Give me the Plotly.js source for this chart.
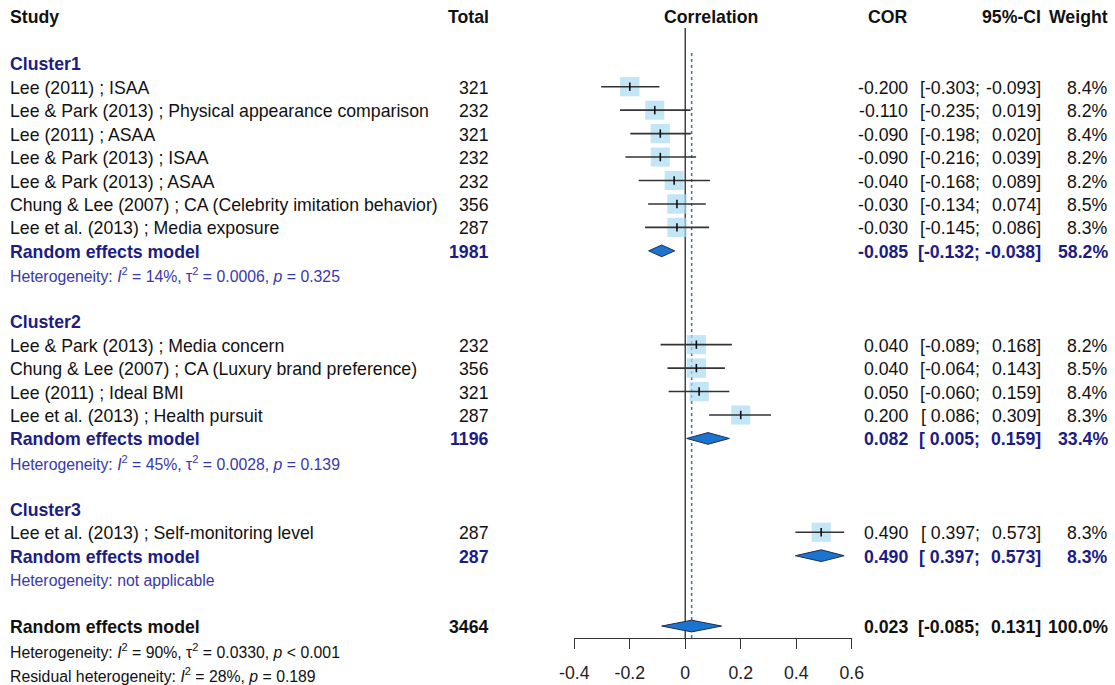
<!DOCTYPE html>
<html>
<head>
<meta charset="utf-8">
<script src="https://cdn.plot.ly/plotly-3.0.1.min.js"></script>
<style>html,body{margin:0;padding:0;background:#fff}#chart{width:1115px;height:685px}</style>
</head>
<body>
<div id="chart"></div>
<script>
// ---------- data ----------
const clusterNames = ["Cluster1", "Cluster2", "Cluster3"];
const studyCluster = [0,0,0,0,0,0,0, 1,1,1,1, 2];
const studyLabels = [
  "Lee (2011) ; ISAA",
  "Lee & Park (2013) ; Physical appearance comparison",
  "Lee (2011) ; ASAA",
  "Lee & Park (2013) ; ISAA",
  "Lee & Park (2013) ; ASAA",
  "Chung & Lee (2007) ; CA (Celebrity imitation behavior)",
  "Lee et al. (2013) ; Media exposure",
  "Lee & Park (2013) ; Media concern",
  "Chung & Lee (2007) ; CA (Luxury brand preference)",
  "Lee (2011) ; Ideal BMI",
  "Lee et al. (2013) ; Health pursuit",
  "Lee et al. (2013) ; Self-monitoring level"
];
const studyTotals = [321, 232, 321, 232, 232, 356, 287, 232, 356, 321, 287, 287];
const studyCor    = [-0.200, -0.110, -0.090, -0.090, -0.040, -0.030, -0.030, 0.040, 0.040, 0.050, 0.200, 0.490];
const studyLower  = [-0.303, -0.235, -0.198, -0.216, -0.168, -0.134, -0.145, -0.089, -0.064, -0.060, 0.086, 0.397];
const studyUpper  = [-0.093, 0.019, 0.020, 0.039, 0.089, 0.074, 0.086, 0.168, 0.143, 0.159, 0.309, 0.573];
const studyWeight = [8.4, 8.2, 8.4, 8.2, 8.2, 8.5, 8.3, 8.2, 8.5, 8.4, 8.3, 8.3];

const clusterTotals = [1981, 1196, 287];
const clusterCor    = [-0.085, 0.082, 0.490];
const clusterLower  = [-0.132, 0.005, 0.397];
const clusterUpper  = [-0.038, 0.159, 0.573];
const clusterWeight = [58.2, 33.4, 8.3];
const clusterHet = [
  "Heterogeneity: <i>I</i><sup>2</sup> = 14%, τ<sup>2</sup> = 0.0006, <i>p</i> = 0.325",
  "Heterogeneity: <i>I</i><sup>2</sup> = 45%, τ<sup>2</sup> = 0.0028, <i>p</i> = 0.139",
  "Heterogeneity: not applicable"
];

const overallTotal = 3464;
const overallCor = 0.023, overallLower = -0.085, overallUpper = 0.131, overallWeight = 100.0;
const overallHet = "Heterogeneity: <i>I</i><sup>2</sup> = 90%, τ<sup>2</sup> = 0.0330, <i>p</i> &lt; 0.001";
const residualHet = "Residual heterogeneity: <i>I</i><sup>2</sup> = 28%, <i>p</i> = 0.189";

const headers = ["Study", "Total", "Correlation", "COR", "95%-CI", "Weight"];
const tickVals = [-0.4, -0.2, 0, 0.2, 0.4, 0.6];
const tickLabels = ["-0.4", "-0.2", "0", "0.2", "0.4", "0.6"];

// ---------- layout helpers ----------
const W = 1115, H = 685;
const ROW = 23.45, ROW0 = 16.35;               // pixel row geometry
const px = v => v / W;                          // paper x from pixel
const py = p => 1 - p / H;                      // paper y from pixel (from top)
const yTop = -ROW0 / ROW, yBot = (H - ROW0) / ROW;

const DARK = "#1c1c84", HET = "#3838a8", BLACK = "#111";
const FS = 17.7, HFS = 15.8;
const FONT = "Liberation Sans, Arial, sans-serif";
const COL = {study: 8, total: 491, corr: 711, cor: 910, semi: 982, ci: 1043, wt: 1110};

const f3 = v => v.toFixed(3);
const fmtW = v => v.toFixed(1) + "%";

const ann = [];
function txt(x, r, text, anchor, opts) {
  opts = opts || {};
  ann.push({xref: "paper", yref: "y", x: px(x), y: r, text: text, showarrow: false,
    xanchor: anchor, yanchor: "middle", yshift: opts.yshift === undefined ? -1 : opts.yshift,
    font: {family: FONT, size: opts.size || FS, color: opts.color || BLACK}});
}
function b(s) { return "<b>" + s + "</b>"; }
function rowNumbers(r, total, cor, lo, hi, w, bold, color) {
  const w2 = bold ? b : (s => s);
  const o = {color: color};
  txt(COL.total, r, w2(String(total)), "right", o);
  txt(COL.cor, r, w2(f3(cor)), "right", o);
  txt(COL.semi, r, w2("[" + (lo < 0 ? "" : " ") + f3(lo) + ";"), "right", o);
  txt(COL.ci, r, w2(f3(hi) + "]"), "right", o);
  txt(COL.wt, r, w2(fmtW(w)), "right", o);
}

// headers
txt(COL.study, 0, b(headers[0]), "left");
txt(COL.total, 0, b(headers[1]), "right");
txt(COL.corr, 0, b(headers[2]), "center");
txt(COL.cor, 0, b(headers[3]), "right");
txt(COL.ci, 0, b(headers[4]), "right");
txt(COL.wt, 0, b(headers[5]), "right");

// rows
const studyRow = [], sumRow = [];
let r = 2;
clusterNames.forEach((cn, c) => {
  txt(COL.study, r, b(cn), "left", {color: DARK});
  r++;
  studyLabels.forEach((lab, i) => {
    if (studyCluster[i] !== c) return;
    studyRow[i] = r;
    txt(COL.study, r, lab, "left");
    rowNumbers(r, studyTotals[i], studyCor[i], studyLower[i], studyUpper[i], studyWeight[i], false, BLACK);
    r++;
  });
  sumRow[c] = r;
  txt(COL.study, r, b("Random effects model"), "left", {color: DARK});
  rowNumbers(r, clusterTotals[c], clusterCor[c], clusterLower[c], clusterUpper[c], clusterWeight[c], true, DARK);
  r++;
  txt(COL.study, r, clusterHet[c], "left", {color: HET, size: HFS, yshift: -1});
  r += 2;
});
const overallRow = r;
txt(COL.study, r, b("Random effects model"), "left");
rowNumbers(r, overallTotal, overallCor, overallLower, overallUpper, overallWeight, true, BLACK);
txt(COL.study, r + 1, overallHet, "left", {size: HFS, yshift: -1});
txt(COL.study, r + 2, residualHet, "left", {size: HFS, yshift: -2});

// ---------- traces ----------
const traces = [];
// squares
traces.push({type: "scatter", mode: "markers", x: studyCor, y: studyRow, cliponaxis: false,
  marker: {symbol: "square", color: "#a9dcf2", size: studyWeight.map(w => 19.2 * Math.sqrt(w / 8.3)), line: {width: 0}},
  hoverinfo: "skip"});
// CI lines
const cx = [], cy = [];
studyCor.forEach((v, i) => { cx.push(studyLower[i], studyUpper[i], null); cy.push(studyRow[i], studyRow[i], null); });
traces.push({type: "scatter", mode: "lines", x: cx, y: cy, line: {color: "#333", width: 1.6}, hoverinfo: "skip", cliponaxis: false});
// estimate ticks
traces.push({type: "scatter", mode: "markers", x: studyCor, y: studyRow, cliponaxis: false,
  marker: {symbol: "line-ns", size: 6, line: {color: "#111", width: 1.6}}, hoverinfo: "skip"});
// diamonds
const DH = 0.25;
function diamond(est, lo, hi, row) {
  traces.push({type: "scatter", mode: "lines", fill: "toself", fillcolor: "#1a74d0",
    x: [lo, est, hi, est, lo], y: [row, row - DH, row, row + DH, row],
    line: {color: "#1c2f55", width: 1}, hoverinfo: "skip", cliponaxis: false});
}
clusterCor.forEach((v, c) => diamond(v, clusterLower[c], clusterUpper[c], sumRow[c]));
diamond(overallCor, overallLower, overallUpper, overallRow);

// ---------- layout ----------
const axisPix = 638;
const layout = {
  width: W, height: H, margin: {l: 0, r: 0, t: 0, b: 0},
  paper_bgcolor: "#fff", plot_bgcolor: "rgba(0,0,0,0)", showlegend: false,
  xaxis: {domain: [px(574.3), px(851.7)], range: [-0.4, 0.6], anchor: "free", position: py(axisPix),
    showline: true, linecolor: "#333", linewidth: 1.3, ticks: "outside", ticklen: 10, tickwidth: 1.3,
    tickcolor: "#333", tickvals: tickVals, ticktext: tickLabels, showgrid: false, zeroline: false,
    ticklabelstandoff: 8,
    tickfont: {family: FONT, size: FS, color: "#222"}, fixedrange: true},
  yaxis: {domain: [0, 1], range: [yBot, yTop], visible: false, fixedrange: true},
  shapes: [
    {type: "line", xref: "x", yref: "paper", x0: 0, x1: 0, y0: py(axisPix), y1: py(28),
     line: {color: "#444", width: 1.5}, layer: "below"},
    {type: "line", xref: "x", yref: "paper", x0: overallCor, x1: overallCor, y0: py(axisPix), y1: py(52),
     line: {color: "#3a6fb8", width: 1.5, dash: "dot"}, layer: "below"}
  ],
  annotations: ann
};
Plotly.newPlot("chart", traces, layout, {staticPlot: true, displayModeBar: false});
</script>
</body>
</html>
